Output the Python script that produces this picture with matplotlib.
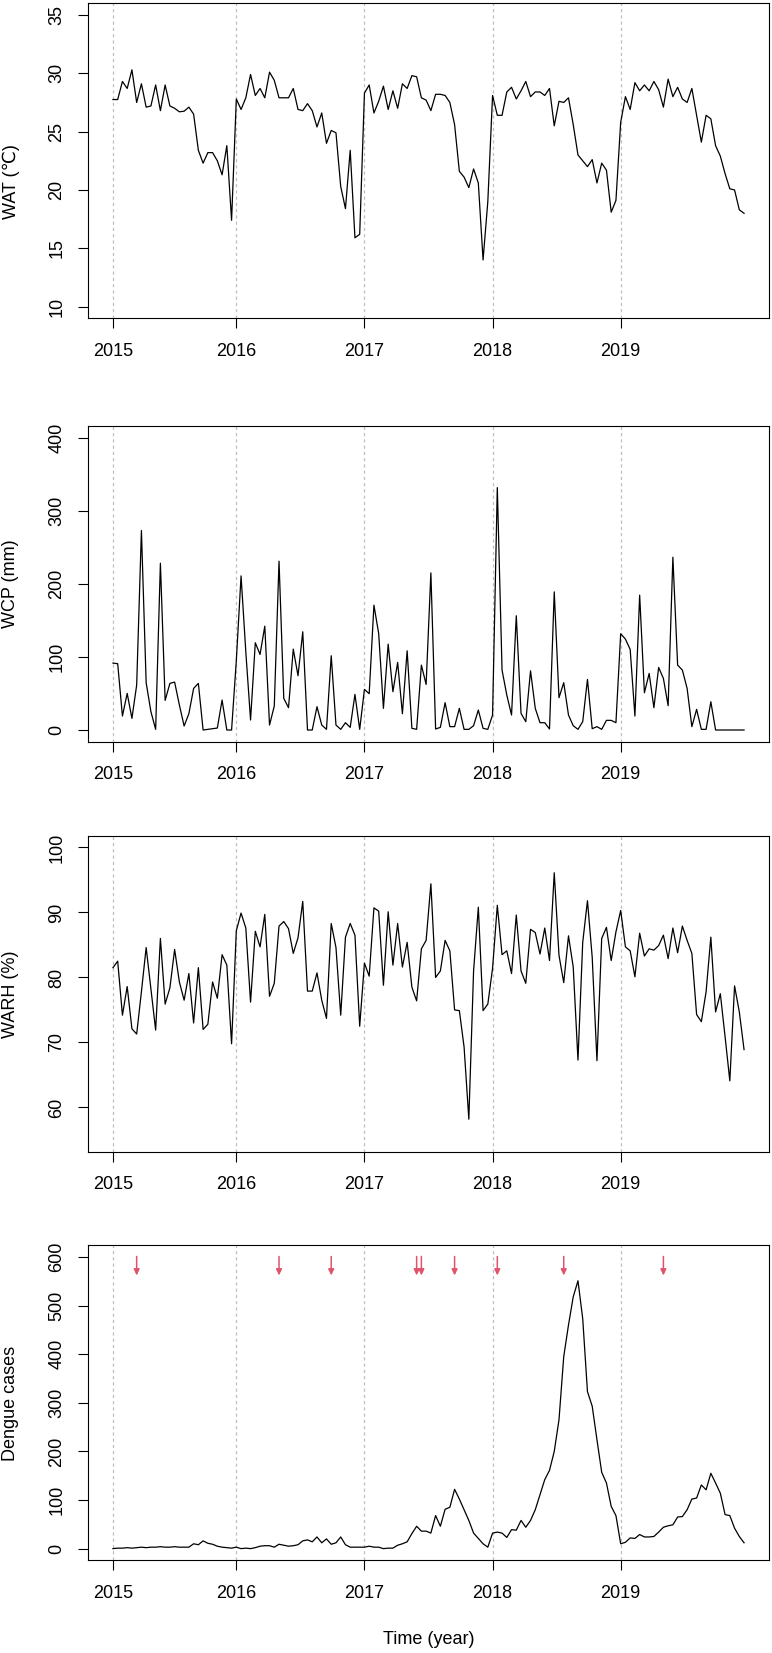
import numpy as np
import matplotlib.pyplot as plt

plt.rcParams['font.family'] = ['Liberation Sans', 'DejaVu Sans']

# biweekly series, 2015 - 2019
years = ["2015", "2016", "2017", "2018", "2019"]
year_index = [0, 26, 53, 80, 107]

wat = [27.75, 27.75, 29.3, 28.7, 30.3, 27.5, 29.1, 27.1, 27.2, 29.0,
       26.8, 29.0, 27.2, 27.0, 26.7, 26.75, 27.1, 26.5, 23.4, 22.3,
       23.2, 23.2, 22.5, 21.3, 23.8, 17.4,
       27.8, 26.9, 27.9, 29.9, 28.1, 28.7, 27.9, 30.1, 29.4, 27.9,
       27.9, 27.9, 28.7, 26.9, 26.8, 27.4, 26.8, 25.4, 26.6, 24.0,
       25.1, 24.9, 20.3, 18.4, 23.4, 15.9, 16.2,
       28.3, 29.0, 26.6, 27.6, 28.9, 26.9, 28.5, 27.0, 29.1, 28.7,
       29.8, 29.7, 27.9, 27.7, 26.8, 28.2, 28.2, 28.1, 27.5, 25.6,
       21.6, 21.1, 20.2, 21.8, 20.6, 14.0, 19.0,
       28.1, 26.4, 26.4, 28.4, 28.8, 27.8, 28.5, 29.3, 28.0, 28.4,
       28.4, 28.1, 28.7, 25.5, 27.6, 27.5, 27.9, 25.6, 23.0, 22.5,
       22.0, 22.6, 20.6, 22.3, 21.7, 18.1, 19.1,
       25.8, 28.0, 26.9, 29.2, 28.5, 29.0, 28.5, 29.3, 28.6, 27.1,
       29.5, 28.0, 28.8, 27.8, 27.5, 28.7, 26.4, 24.1, 26.4, 26.1,
       23.8, 22.9, 21.4, 20.1, 20.0, 18.3, 18.0]

wcp = [91.6, 90.7, 19.1, 50.1, 15.9, 61.5, 272.9, 64.7, 25.1, 0.9,
       228.2, 40.5, 63.8, 65.6, 34.2, 5.5, 22.3, 56.9, 63.8, 0,
       0.9, 1.8, 2.7, 41, 0, 0,
       95, 210.9, 107, 13.7, 119.4, 103.4, 142.1, 6.8, 32.8, 231,
       43.3, 30.5, 110.7, 74.3, 134.4, 0, 0, 31.9, 6.8, 0.9,
       101.6, 6.8, 0.9, 10, 3.6, 48.7, 0.9,
       55.6, 49.7, 170.8, 132.1, 29.6, 117.5, 52.4, 92.5, 22.3, 108.4,
       2.3, 0.9, 88.8, 62.4, 215, 1.4, 3.6, 37.4, 4.6, 4.6,
       29.6, 0.9, 0.9, 5.9, 27.3, 2.3, 0.9,
       20.5, 331.7, 82, 47.8, 20.5, 156.3, 22.8, 11.4, 81.1, 29.6,
       10, 10, 1.4, 189, 44.2, 64.7, 20.5, 5.9, 0.9, 11.4,
       69.2, 1.8, 4.6, 0.9, 13.2, 13.2, 10,
       131.7, 124.4, 110.3, 19.1, 184.5, 51, 77.4, 30.5, 85.6, 70.6,
       33.3, 236.4, 88.8, 82, 56.9, 4.6, 28.2, 0.9, 0.9, 38.7,
       0, 0, 0, 0, 0, 0, 0]

warh = [81.5, 82.5, 74.2, 78.6, 72.1, 71.3, 77.8, 84.6, 78.2, 71.9,
        86.0, 75.9, 78.4, 84.3, 79.3, 76.5, 80.6, 73.0, 81.5, 72.0,
        72.8, 79.3, 76.8, 83.5, 81.9, 69.8,
        87.2, 89.9, 87.6, 76.2, 87.1, 84.7, 89.7, 77.1, 79.1, 87.9,
        88.6, 87.5, 83.7, 86.1, 91.7, 77.9, 77.9, 80.7, 76.5, 73.7,
        88.3, 84.6, 74.2, 86.2, 88.3, 86.5, 72.5,
        82.2, 80.2, 90.7, 90.2, 78.8, 90.1, 81.9, 88.3, 81.6, 85.4,
        78.5, 76.4, 84.4, 85.7, 94.4, 80.0, 81.0, 85.7, 84.1, 75.0,
        74.9, 69.3, 58.2, 81.0, 90.8, 74.9, 75.9,
        81.4, 91.1, 83.5, 84.1, 80.6, 89.6, 81.0, 79.1, 87.4, 86.9,
        83.6, 87.6, 82.6, 96.1, 83.4, 79.2, 86.4, 81.6, 67.3, 85.4,
        91.8, 83.1, 67.2, 86.0, 87.7, 82.6, 87.0,
        90.3, 84.7, 84.1, 80.1, 86.8, 83.3, 84.4, 84.2, 84.9, 86.5,
        82.9, 87.6, 83.8, 87.9, 85.7, 83.7, 74.3, 73.2, 77.8, 86.2,
        74.7, 77.5, 70.9, 64.1, 78.7, 74.7, 68.9]

dengue = [0, 1, 1, 2, 1, 2, 3, 2, 3, 3, 4, 3, 3, 4, 3, 3, 3, 10, 8, 16,
          11, 9, 5, 3, 2, 1,
          3, 0, 1, 0, 2, 5, 6, 6, 3, 9, 7, 5, 6, 8, 16, 18, 14, 24, 12,
          20, 9, 12, 24, 8, 3, 3, 3,
          3, 5, 3, 3, 0, 1, 1, 7, 10, 14, 31, 46, 36, 36, 32, 68, 46, 81,
          85, 122, 102, 80, 58, 32, 21, 10, 3,
          32, 34, 32, 23, 39, 38, 58, 44, 58, 80, 111, 142, 161, 200, 265,
          395, 460, 518, 551, 473, 323, 293, 224, 157, 135, 87, 68,
          10, 13, 22, 21, 29, 24, 24, 25, 34, 44, 47, 49, 65, 66, 80, 102,
          104, 131, 121, 155, 135, 114, 70, 68, 42, 25, 12]

# periods marked with red arrows in the dengue panel
event_index = [5, 35, 46, 64, 65, 72, 81, 95, 116]

series = [wat, wcp, warh, dengue]
ylabels = ["WAT (℃)", "WCP (mm)", "WARH (%)", "Dengue cases"]
yticks = [[10, 15, 20, 25, 30, 35],
          [0, 100, 200, 300, 400],
          [60, 70, 80, 90, 100],
          [0, 100, 200, 300, 400, 500, 600]]
ylims = [(9, 36), (-16, 416), (53.2, 101.8), (-24, 624)]

W, H = 772, 1653
boxes = [(3.3, 318.3), (426, 741.7), (835.7, 1151.7), (1245.3, 1560.3)]
label_y = [182, 584, 994, 1403]

x = np.arange(len(wat))
n = len(wat) - 1

fig = plt.figure(figsize=(W / 100, H / 100), dpi=100)

for k in range(4):
    top, bot = boxes[k]
    ax = fig.add_axes([87.7 / W, 1 - bot / H, 681.6 / W, (bot - top) / H])
    for xi in year_index:
        ax.axvline(xi, color='#BEBEBE', ls=(0, (2.5, 2.5)), lw=0.9, zorder=1)
    ax.plot(x, series[k], color='black', lw=0.9, zorder=2)
    ax.set_xlim(-0.04 * n, n * 1.04)
    ax.set_ylim(ylims[k])
    ax.set_xticks(year_index)
    ax.set_xticklabels(years)
    ax.set_yticks(yticks[k])
    ax.set_yticklabels([str(v) for v in yticks[k]])
    plt.setp(ax.get_yticklabels(), rotation=90, va='center')
    ax.tick_params(axis='x', direction='out', length=7.5, width=0.8,
                   labelsize=13, pad=10)
    ax.tick_params(axis='y', direction='out', length=7.5, width=0.8,
                   labelsize=13, pad=8.4)
    for s in ax.spines.values():
        s.set_linewidth(0.8)
        s.set_color('black')
    fig.text(11 / W, 1 - label_y[k] / H, ylabels[k], rotation=90,
             ha='center', va='center', fontsize=13)

    if k == 3:
        for e in event_index:
            ax.annotate("", xy=(e, 562), xytext=(e, 601),
                        arrowprops=dict(arrowstyle='-|>,head_length=0.35,head_width=0.17',
                                        color='#DF536B', lw=1.1,
                                        shrinkA=0, shrinkB=0))

fig.text(428.5 / W, 1 - 1640 / H, "Time (year)", ha='center', va='center',
         fontsize=13)

plt.savefig("out.png", dpi=100)
plt.close()
